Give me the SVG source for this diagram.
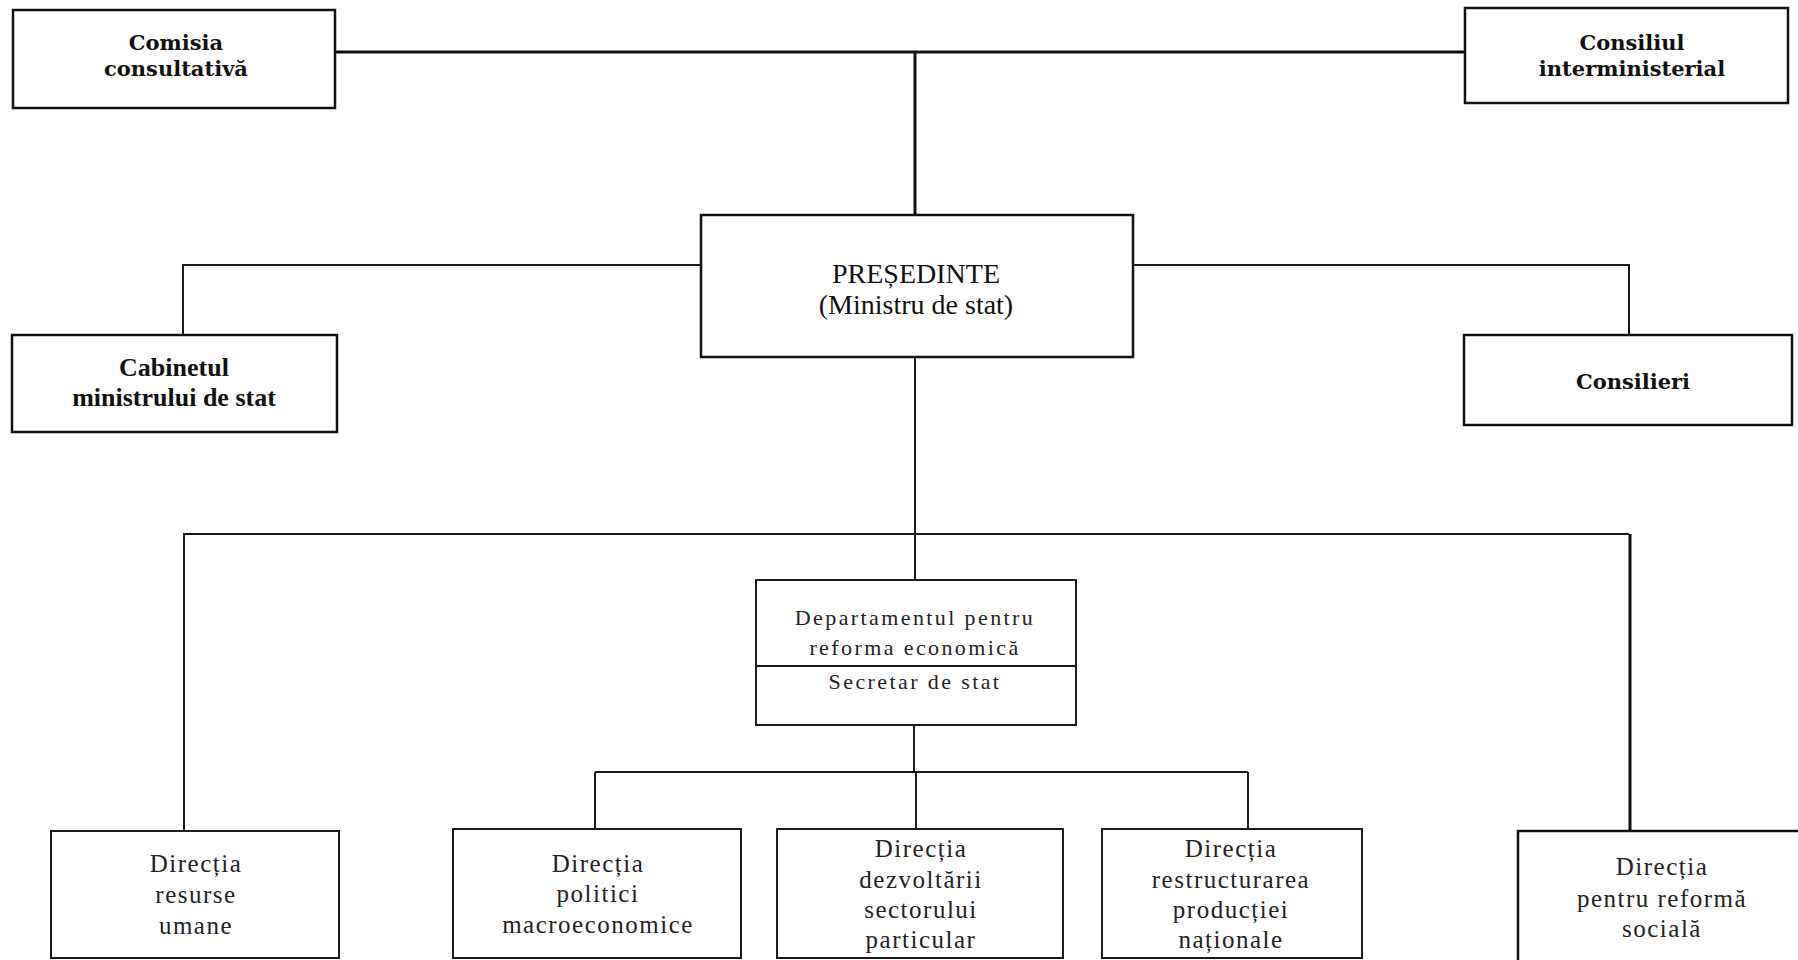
<svg xmlns="http://www.w3.org/2000/svg" width="1798" height="960" viewBox="0 0 1798 960">
<style>
.bg{fill:#ffffff}
.box{fill:#ffffff;stroke:#111;stroke-width:2.5}
.box2{fill:#ffffff;stroke:#1a1a1a;stroke-width:2}
.ln{fill:none;stroke:#111;stroke-width:3}
.ln2{fill:none;stroke:#1a1a1a;stroke-width:2}
.tb{font-family:"DejaVu Serif","Liberation Serif",serif;font-weight:bold;font-size:21px;fill:#111;text-anchor:middle}
.tc{font-family:"Liberation Serif",serif;font-weight:bold;font-size:26px;fill:#111;text-anchor:middle}
.tp{font-family:"Liberation Serif",serif;font-size:28px;fill:#111;text-anchor:middle}
.td{font-family:"Liberation Serif",serif;font-size:22px;letter-spacing:2.4px;fill:#222;text-anchor:middle}
.tl{font-family:"Liberation Serif",serif;font-size:25px;letter-spacing:1.5px;fill:#222;text-anchor:middle}
</style>
<rect class="bg" x="0" y="0" width="1798" height="960"/>
<g id="connectors">
<path class="ln" d="M335 52 H1465"/>
<path class="ln" d="M915 52 V215"/>
<path class="ln2" d="M701 265 H183 V335"/>
<path class="ln2" d="M1133 265 H1629 V335"/>
<path class="ln2" d="M915 357 V580"/>
<path class="ln2" d="M183 534 H1629"/>
<path class="ln2" d="M184 534 V831"/>
<path class="ln" d="M1630 534 V831"/>
<path class="ln2" d="M914 725 V772"/>
<path class="ln2" d="M595 772 H1248"/>
<path class="ln2" d="M595 772 V829"/>
<path class="ln2" d="M916 772 V829"/>
<path class="ln2" d="M1248 772 V829"/>
</g>
<g id="comisia">
<rect class="box" x="13" y="10" width="322" height="98"/>
<text class="tb" x="176" y="50">Comisia</text>
<text class="tb" x="176" y="76">consultativă</text>
</g>
<g id="consiliul">
<rect class="box" x="1465" y="8" width="323" height="95"/>
<text class="tb" x="1632" y="50">Consiliul</text>
<text class="tb" x="1632" y="76">interministerial</text>
</g>
<g id="presedinte">
<rect class="box" x="701" y="215" width="432" height="142"/>
<text class="tp" x="916" y="283">PREȘEDINTE</text>
<text class="tp" x="916" y="314">(Ministru de stat)</text>
</g>
<g id="cabinetul">
<rect class="box" x="12" y="335" width="325" height="97"/>
<text class="tc" x="174" y="376">Cabinetul</text>
<text class="tc" x="174" y="406">ministrului de stat</text>
</g>
<g id="consilieri">
<rect class="box" x="1464" y="335" width="328" height="90"/>
<text class="tb" x="1633" y="389">Consilieri</text>
</g>
<g id="departament">
<rect class="box2" x="756" y="580" width="320" height="145"/>
<line class="ln2" x1="756" y1="666" x2="1076" y2="666"/>
<text class="td" x="915" y="625">Departamentul pentru</text>
<text class="td" x="915" y="655">reforma economică</text>
<text class="td" x="915" y="689">Secretar de stat</text>
</g>
<g id="resurse">
<rect class="box2" x="51" y="831" width="288" height="127"/>
<text class="tl" x="196" y="872">Direcția</text>
<text class="tl" x="196" y="903">resurse</text>
<text class="tl" x="196" y="934">umane</text>
</g>
<g id="politici">
<rect class="box2" x="453" y="829" width="288" height="129"/>
<text class="tl" x="598" y="872">Direcția</text>
<text class="tl" x="598" y="902">politici</text>
<text class="tl" x="598" y="933">macroeconomice</text>
</g>
<g id="dezvoltarii">
<rect class="box2" x="777" y="829" width="286" height="129"/>
<text class="tl" x="921" y="857">Direcția</text>
<text class="tl" x="921" y="888">dezvoltării</text>
<text class="tl" x="921" y="918">sectorului</text>
<text class="tl" x="921" y="948">particular</text>
</g>
<g id="restructurare">
<rect class="box2" x="1102" y="829" width="260" height="129"/>
<text class="tl" x="1231" y="857">Direcția</text>
<text class="tl" x="1231" y="888">restructurarea</text>
<text class="tl" x="1231" y="918">producției</text>
<text class="tl" x="1231" y="948">naționale</text>
</g>
<g id="sociala">
<rect class="box" x="1518" y="831" width="290" height="140"/>
<text class="tl" x="1662" y="875">Direcția</text>
<text class="tl" x="1662" y="907">pentru reformă</text>
<text class="tl" x="1662" y="937">socială</text>
</g>
</svg>
